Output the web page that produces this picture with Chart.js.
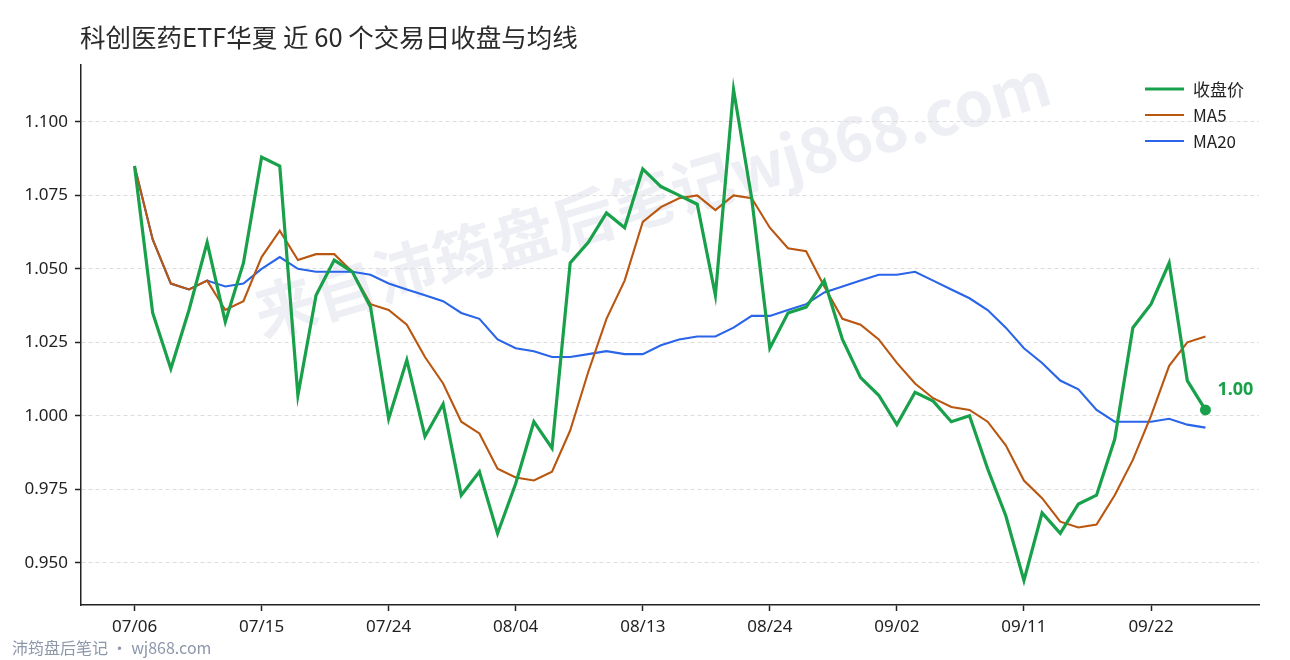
<!DOCTYPE html>
<html>
<head>
<meta charset="utf-8">
<script src="https://cdn.jsdelivr.net/npm/chart.js@4.4.0/dist/chart.umd.min.js"></script>
<style>
  html, body { margin: 0; padding: 0; background: #fff; }
  #wrap { width: 1290px; height: 660px; }
</style>
</head>
<body>
<div id="wrap"><canvas id="etfChart" width="1290" height="660"></canvas></div>
<script>
// closing prices for the last 60 trading days
const closes = [
  1.085, 1.035, 1.016, 1.036, 1.059, 1.032, 1.052, 1.088, 1.085, 1.007,
  1.041, 1.053, 1.049, 1.037, 0.999, 1.019, 0.993, 1.004, 0.973, 0.981,
  0.960, 0.977, 0.998, 0.989, 1.052, 1.059, 1.069, 1.064, 1.084, 1.078,
  1.075, 1.072, 1.041, 1.111, 1.074, 1.023, 1.035, 1.037, 1.046, 1.026,
  1.013, 1.007, 0.997, 1.008, 1.005, 0.998, 1.000, 0.982, 0.966, 0.944,
  0.967, 0.960, 0.970, 0.973, 0.992, 1.030, 1.038, 1.052, 1.012, 1.002
];
const ma5 = [
  1.085, 1.060, 1.045, 1.043, 1.046, 1.036, 1.039, 1.054, 1.063, 1.053,
  1.055, 1.055, 1.049, 1.038, 1.036, 1.031, 1.020, 1.011, 0.998, 0.994,
  0.982, 0.979, 0.978, 0.981, 0.995, 1.015, 1.033, 1.046, 1.066, 1.071,
  1.074, 1.075, 1.070, 1.075, 1.074, 1.064, 1.057, 1.056, 1.044, 1.033,
  1.031, 1.026, 1.018, 1.011, 1.006, 1.003, 1.002, 0.998, 0.990, 0.978,
  0.972, 0.964, 0.962, 0.963, 0.973, 0.985, 1.000, 1.017, 1.025, 1.027
];
const ma20 = [
  1.085, 1.060, 1.045, 1.043, 1.046, 1.044, 1.045, 1.050, 1.054, 1.050,
  1.049, 1.049, 1.049, 1.048, 1.045, 1.043, 1.041, 1.039, 1.035, 1.033,
  1.026, 1.023, 1.022, 1.020, 1.020, 1.021, 1.022, 1.021, 1.021, 1.024,
  1.026, 1.027, 1.027, 1.030, 1.034, 1.034, 1.036, 1.038, 1.042, 1.044,
  1.046, 1.048, 1.048, 1.049, 1.046, 1.043, 1.040, 1.036, 1.030, 1.023,
  1.018, 1.012, 1.009, 1.002, 0.998, 0.998, 0.998, 0.999, 0.997, 0.996
];

// x tick positions (trading-day index) and their date labels
const xTickIdx = [0, 7, 14, 21, 28, 35, 42, 49, 56];
const xTickLabels = ['07/06', '07/15', '07/24', '08/04', '08/13', '08/24', '09/02', '09/11', '09/22'];
const yTicks = [0.950, 0.975, 1.000, 1.025, 1.050, 1.075, 1.100];

const titleText = '科创医药ETF华夏 近 60 个交易日收盘与均线';
const watermarkText = '来自沛筠盘后笔记wj868.com';
const footerText = '沛筠盘后笔记 · wj868.com';

const GREEN = '#18a14a';
const ORANGE = '#b9560f';
const BLUE = '#2a64e8';
const FONT = '"Noto Sans", "Noto Sans CJK SC", sans-serif';
const CJK = '"Noto Sans CJK SC", "Noto Sans", sans-serif';

// matplotlib-like 5% margins
const allVals = closes.concat(ma5, ma20);
const lo = Math.min(...allVals), hi = Math.max(...allVals);
const yPad = (hi - lo) * 0.05;
const lastIdx = closes.length - 1;
const xPad = lastIdx * 0.05;

const decorPlugin = {
  id: 'decor',
  beforeDraw(chart) {
    const ctx = chart.ctx;
    ctx.save();
    ctx.fillStyle = '#fff';
    ctx.fillRect(0, 0, chart.width, chart.height);
    // watermark
    ctx.translate(652, 198);
    ctx.rotate(-16.5 * Math.PI / 180);
    ctx.font = 'bold 62px ' + CJK;
    ctx.fillStyle = 'rgba(190, 196, 215, 0.27)';
    ctx.textAlign = 'center';
    ctx.textBaseline = 'middle';
    ctx.fillText(watermarkText, 0, 0);
    ctx.restore();
  },
  afterDraw(chart) {
    const ctx = chart.ctx;
    ctx.save();
    // title
    ctx.font = '25.5px ' + CJK;
    ctx.fillStyle = '#2b2b2b';
    ctx.textAlign = 'left';
    ctx.textBaseline = 'middle';
    ctx.fillText(titleText, 80, 37);

    // footer
    ctx.font = '16px ' + CJK;
    ctx.fillStyle = '#8d97aa';
    ctx.fillText(footerText, 12, 648);

    // legend
    chart.data.datasets.forEach((ds, i) => {
      const y = 89 + i * 26;
      ctx.strokeStyle = ds.borderColor;
      ctx.lineWidth = ds.borderWidth;
      ctx.beginPath();
      ctx.moveTo(1145, y);
      ctx.lineTo(1184, y);
      ctx.stroke();
      ctx.font = '17px ' + CJK;
      ctx.fillStyle = '#222';
      ctx.fillText(ds.label, 1193, y + 1);
    });

    // last close label
    const xs = chart.scales.x, ys = chart.scales.y;
    const px = xs.getPixelForValue(lastIdx);
    const py = ys.getPixelForValue(closes[lastIdx]);
    ctx.font = 'bold 18px ' + FONT;
    ctx.fillStyle = GREEN;
    ctx.fillText(closes[lastIdx].toFixed(2), px + 12, py - 20);
    ctx.restore();
  }
};

const ctx = document.getElementById('etfChart').getContext('2d');
new Chart(ctx, {
  type: 'line',
  data: {
    labels: closes.map((_, i) => i),
    datasets: [
      {
        label: '收盘价',
        data: closes,
        borderColor: GREEN,
        backgroundColor: GREEN,
        borderWidth: 3.2,
        pointRadius: c => (c.dataIndex === lastIdx ? 5.5 : 0),
        pointBackgroundColor: GREEN,
        pointBorderWidth: 0,
        tension: 0
      },
      {
        label: 'MA5',
        data: ma5,
        borderColor: ORANGE,
        borderWidth: 2.1,
        pointRadius: 0,
        tension: 0
      },
      {
        label: 'MA20',
        data: ma20,
        borderColor: BLUE,
        borderWidth: 2.1,
        pointRadius: 0,
        tension: 0
      }
    ]
  },
  options: {
    responsive: false,
    animation: false,
    layout: { padding: { left: 0, top: 65, right: 31, bottom: 0 } },
    plugins: {
      legend: { display: false },
      title: { display: false },
      tooltip: { enabled: false }
    },
    scales: {
      x: {
        type: 'linear',
        min: -xPad,
        max: lastIdx + xPad,
        afterBuildTicks: s => { s.ticks = xTickIdx.map(v => ({ value: v })); },
        afterFit: s => { s.height = 55; },
        ticks: {
          autoSkip: false,
          maxRotation: 0,
          padding: 6,
          color: '#222',
          font: { family: FONT, size: 17 },
          callback: v => xTickLabels[xTickIdx.indexOf(v)]
        },
        grid: {
          drawOnChartArea: false,
          drawTicks: true,
          tickLength: 6,
          tickColor: '#222',
          tickWidth: 1.5
        },
        border: { display: true, color: '#222', width: 1.5 }
      },
      y: {
        min: lo - yPad,
        max: hi + yPad,
        afterBuildTicks: s => { s.ticks = yTicks.map(v => ({ value: v })); },
        afterFit: s => { s.width = 81; },
        ticks: {
          padding: 7,
          color: '#222',
          font: { family: FONT, size: 17 },
          callback: v => v.toFixed(3)
        },
        grid: {
          color: '#dcdcdc',
          lineWidth: 1,
          drawTicks: true,
          tickLength: 6,
          tickColor: '#222',
          tickWidth: 1.5
        },
        border: { display: true, color: '#222', width: 1.5, dash: [4, 3] }
      }
    }
  },
  plugins: [decorPlugin]
});
</script>
</body>
</html>
